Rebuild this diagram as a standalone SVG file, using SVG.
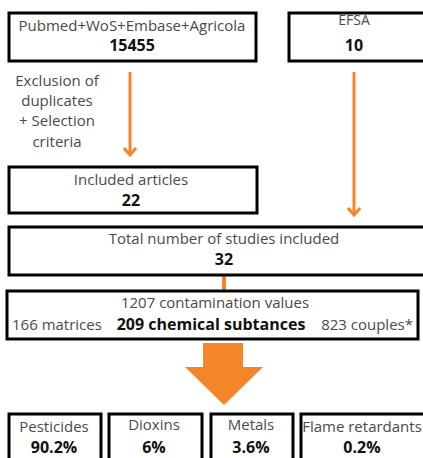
<svg xmlns="http://www.w3.org/2000/svg" width="423" height="458" viewBox="0 0 423 458">
<style>
.box{fill:#fff;stroke:#000;stroke-width:3}
.t{font-family:"Open Sans","DejaVu Sans",sans-serif;font-size:15px;fill:#4a4a4a;text-anchor:middle}
.b{font-family:"Open Sans","DejaVu Sans",sans-serif;font-size:16px;font-weight:bold;fill:#111;text-anchor:middle}
.ln{stroke:#F4862A;stroke-width:3;fill:none}
</style>
<defs>
<marker id="ah" markerWidth="12" markerHeight="14" refX="9" refY="7" orient="auto" markerUnits="userSpaceOnUse" viewBox="0 0 12 14">
<path d="M2,1 L9,7 L2,13" fill="none" stroke="#F4862A" stroke-width="3"/>
</marker>
</defs>
<rect width="423" height="458" fill="#fff"/>
<g id="connectors">
<line class="ln" x1="130" y1="72" x2="130" y2="155" marker-end="url(#ah)"/>
<line class="ln" x1="354" y1="72" x2="354" y2="215" marker-end="url(#ah)"/>
<line class="ln" x1="224" y1="275" x2="224" y2="290" style="stroke-width:4"/>
<path d="M203,343 H243 V367 H263 L224,405 L185,367 H203 Z" fill="#F4862A"/>
</g>
<g id="sources">
<rect class="box" x="9" y="13" width="247" height="48"/>
<text class="t" x="132" y="31">Pubmed+WoS+Embase+Agricola</text>
<text class="b" x="132" y="51">15455</text>
</g>
<g id="efsa">
<rect class="box" x="289" y="13" width="140" height="48"/>
<text class="t" x="354" y="25" style="font-size:14px">EFSA</text>
<text class="b" x="354" y="51">10</text>
</g>
<g id="exclusion">
<text class="t" x="57" y="86">Exclusion of</text>
<text class="t" x="57" y="106">duplicates</text>
<text class="t" x="57" y="126">+ Selection</text>
<text class="t" x="57" y="147">criteria</text>
</g>
<g id="included">
<rect class="box" x="9" y="167" width="248" height="46"/>
<text class="t" x="131" y="185">Included articles</text>
<text class="b" x="131" y="206">22</text>
</g>
<g id="total">
<rect class="box" x="9" y="227" width="420" height="48"/>
<text class="t" x="224" y="244">Total number of studies included</text>
<text class="b" x="224" y="265">32</text>
</g>
<g id="values">
<rect class="box" x="7" y="291" width="411" height="48"/>
<text class="t" x="215" y="308">1207 contamination values</text>
<text class="t" x="12" y="330" style="text-anchor:start">166 matrices</text>
<text class="b" x="211" y="330">209 chemical subtances</text>
<text class="t" x="413" y="330" style="text-anchor:end">823 couples*</text>
</g>
<g id="pesticides">
<rect class="box" x="9" y="414" width="92" height="60"/>
<text class="t" x="54" y="432">Pesticides</text>
<text class="b" x="54" y="453">90.2%</text>
</g>
<g id="dioxins">
<rect class="box" x="109" y="414" width="93" height="60"/>
<text class="t" x="154" y="430">Dioxins</text>
<text class="b" x="154" y="453">6%</text>
</g>
<g id="metals">
<rect class="box" x="211" y="414" width="82" height="60"/>
<text class="t" x="251" y="430">Metals</text>
<text class="b" x="251" y="453">3.6%</text>
</g>
<g id="flame">
<rect class="box" x="301" y="414" width="130" height="60"/>
<text class="t" x="362" y="432">Flame retardants</text>
<text class="b" x="362" y="453">0.2%</text>
</g>
</svg>
